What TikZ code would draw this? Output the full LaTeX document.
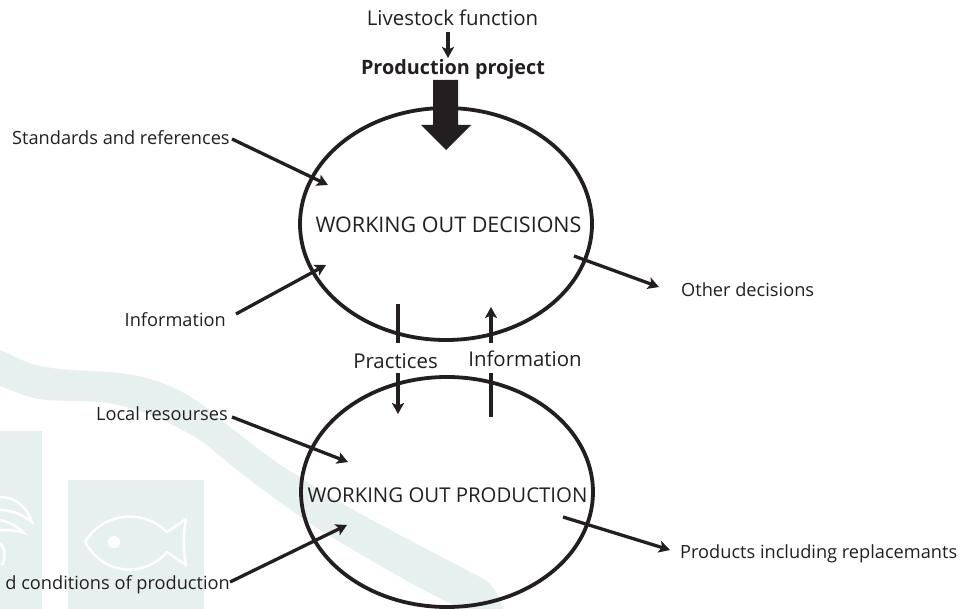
\documentclass[tikz,border=0pt]{standalone}
\usepackage{fontspec}
\setmainfont{Open Sans}
\usetikzlibrary{arrows.meta}
\definecolor{ink}{HTML}{231F20}
\definecolor{wm}{HTML}{E6F1EF}
\tikzset{
  lab/.style={text=ink,inner sep=0pt,font=\fontsize{18.2}{20}\selectfont},
  biglab/.style={text=ink,inner sep=0pt,font=\fontsize{20.4}{24}\selectfont},
  conn/.style={draw=ink,line width=3.3pt,-{Stealth[length=11pt,width=12pt,inset=2.5pt]}},
  circ/.style={draw=ink,line width=3.8pt,ellipse,inner sep=0pt},
}
\usetikzlibrary{shapes.geometric}
\begin{document}
\begin{tikzpicture}[x=1pt,y=-1pt]
\useasboundingbox (0,0) rectangle (963,609);
% watermark
\fill[wm] (0,350) .. controls (15,356) and (25,363) .. (40,366) .. controls (70,372) and (100,370) .. (127,374)
  .. controls (165,380) and (185,393) .. (200,403) .. controls (235,430) and (265,457) .. (300,477)
  .. controls (340,505) and (400,535) .. (480,577) .. controls (492,583) and (498,592) .. (503,609)
  -- (463,609) .. controls (420,590) and (370,560) .. (320,530) .. controls (285,507) and (250,480) .. (233,467)
  .. controls (215,452) and (205,443) .. (195,437) .. controls (165,420) and (135,406) .. (100,402)
  .. controls (70,400) and (45,402) .. (30,397) .. controls (20,394) and (10,390) .. (0,386) -- cycle;
\fill[wm] (0,431) rectangle (42,609);
\fill[wm] (68,480) rectangle (204,609);
\draw[white,line width=2.5pt,line join=round] (85,542) .. controls (105,510) and (145,510) .. (167,532) -- (186,519)
  .. controls (183,535) and (183,550) .. (186,565) -- (167,552) .. controls (145,577) and (105,577) .. (85,542) -- cycle;
\fill[white] (114,542) circle (6);
\draw[white,line width=2.5pt] (0,497) .. controls (18,497) and (28,510) .. (32,522) .. controls (20,513) and (10,510) .. (0,510);
\draw[white,line width=2.5pt] (0,520) .. controls (10,522) and (18,527) .. (24,533) .. controls (15,530) and (8,530) .. (0,530);
\draw[white,line width=2.5pt] (0,543) .. controls (5,548) and (6,558) .. (2,565);
% ellipses
\node[circ,minimum width=292pt,minimum height=232pt] (decide) at (446,224) {};
\node[circ,minimum width=292pt,minimum height=230pt] (produce) at (447,492) {};
% coordinates
\coordinate (lf1) at (448,32); \coordinate (lf2) at (448,58);
\coordinate (st1) at (232,139); \coordinate (st2) at (328,185);
\coordinate (in1) at (236,314); \coordinate (in2) at (326,265);
\coordinate (od1) at (574,256); \coordinate (od2) at (659,287);
\coordinate (pr1) at (398,304); \coordinate (pr2) at (398,414);
\coordinate (im1) at (491,417); \coordinate (im2) at (491,307);
\coordinate (lr1) at (232,417); \coordinate (lr2) at (348,462);
\coordinate (co1) at (230,582); \coordinate (co2) at (347,525);
\coordinate (pd1) at (563,517); \coordinate (pd2) at (670,550);
% connectors
\draw[conn] (lf1) -- (lf2);
\draw[conn] (st1) -- (st2);
\draw[conn] (in1) -- (in2);
\draw[conn] (od1) -- (od2);
\draw[conn] (pr1) -- (pr2);
\draw[conn] (im1) -- (im2);
\draw[conn] (lr1) -- (lr2);
\draw[conn] (co1) -- (co2);
\draw[conn] (pd1) -- (pd2);
% big arrow
\fill[ink] (433,80) -- (458,80) -- (458,125) -- (471,125) -- (446,150) -- (421,125) -- (433,125) -- cycle;
% labels
\node[lab,anchor=base,font=\fontsize{20.4}{24}\selectfont] (livestock) at (452.5,25.5) {Livestock function};
\node[lab,anchor=base,font=\fontsize{19.8}{24}\selectfont\bfseries] (project) at (453,74.5) {Production project};
\node[lab,anchor=base west] (standards) at (12,144.5) {Standards and references};
\node[lab,anchor=base east] (info) at (226,326.5) {Information};
\node[lab,anchor=base west] (other) at (681,297) {Other decisions};
\node[lab,anchor=base east] (local) at (228,420) {Local resourses};
\node[lab,anchor=base east] (cond) at (230,589.5) {d conditions of production};
\node[lab,anchor=base west] (prod) at (680,558) {Products including replacemants};
\node[biglab,anchor=center,fill=white,minimum width=84pt,minimum height=30pt] (practices) at (395.5,358) {};
\node[biglab,anchor=center,fill=white,minimum width=115pt,minimum height=30pt] (infomid) at (525,358) {};
\node[biglab,anchor=base] at (395.5,368) {Practices};
\node[biglab,anchor=base] at (525,366.5) {Information};
\node[biglab,anchor=base,font=\fontsize{21.5}{24}\selectfont] (wdec) at (448.5,233) {WORKING OUT DECISIONS};
\node[biglab,anchor=base] (wpro) at (447.5,502.5) {WORKING OUT PRODUCTION};
\end{tikzpicture}
\end{document}
